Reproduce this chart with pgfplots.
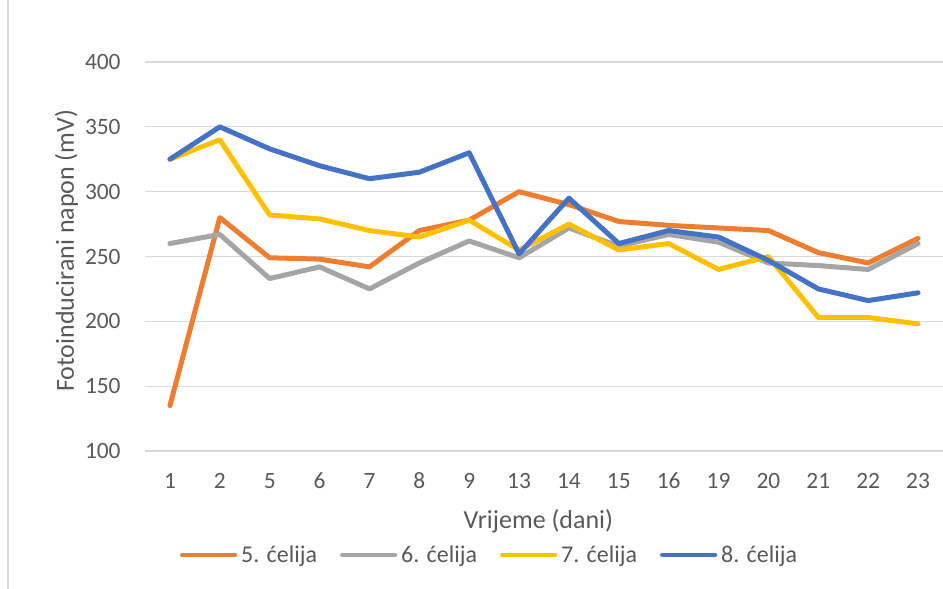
\documentclass[border=0pt]{standalone}
\usepackage{fontspec}
\setmainfont{Carlito}
\usepackage{pgfplots}
\pgfplotsset{compat=1.18}
\definecolor{cfive}{HTML}{ED7D31}
\definecolor{csix}{HTML}{A5A5A5}
\definecolor{cseven}{HTML}{FFC000}
\definecolor{ceight}{HTML}{4472C4}
\definecolor{txt}{HTML}{595959}
\definecolor{gridc}{HTML}{D9D9D9}
\begin{document}
\begin{tikzpicture}
\useasboundingbox (-72.5pt,-69pt) rectangle (399pt,225.5pt);
\draw[gridc, line width=0.6pt] (-68.5pt,-69pt) -- (-68.5pt,225.5pt);
\begin{axis}[
  at={(0pt,0pt)}, anchor=south west,
  width=399pt, height=194.5pt, scale only axis,
  xmin=-0.5, xmax=15.5, ymin=100, ymax=400,
  xtick={0,...,15},
  xticklabels={1,2,5,6,7,8,9,13,14,15,16,19,20,21,22,23},
  ytick={100,150,...,400},
  ymajorgrids, grid style={gridc, line width=0.6pt},
  axis line style={draw=none},
  major tick length=0pt,
  /pgf/number format/assume math mode=true,
  tick label style={font=\fontsize{11.7}{14}\selectfont, text=txt, inner sep=0pt},
  xticklabel style={anchor=base, yshift=-19pt},
  yticklabel style={anchor=east, xshift=-12pt},
  xlabel={Vrijeme (dani)},
  ylabel={Fotoinducirani napon (mV)},
  label style={font=\fontsize{13}{15}\selectfont, text=txt, inner sep=0pt},
  xlabel style={at={(axis description cs:0.493,-0.2005)}, anchor=base},
  ylabel style={at={(axis description cs:-0.089,0.515)}, anchor=base},
  legend columns=4,
  legend style={at={(axis description cs:0.0439,-0.27)}, anchor=west,
    draw=none, fill=none, inner sep=0pt, outer sep=0pt,
    font=\fontsize{12}{14}\selectfont, text=txt,
    cells={anchor=base west},
    nodes={inner sep=0pt},
    /tikz/every odd column/.append style={column sep=2pt},
    /tikz/every even column/.append style={column sep=11.5pt}},
  legend image code/.code={\draw[#1, line width=2.1pt, line cap=round] (0pt,4pt) -- (26.5pt,4pt);},
  every axis plot/.append style={line width=2.5pt, line join=round, line cap=round, no markers},
  clip=false,
]
\addplot[cfive] coordinates {(0,135) (1,280) (2,249) (3,248) (4,242) (5,270) (6,278) (7,300) (8,290) (9,277) (10,274) (11,272) (12,270) (13,253) (14,245) (15,264)};
\addlegendentry{5. ćelija}
\addplot[csix] coordinates {(0,260) (1,267) (2,233) (3,242) (4,225) (5,245) (6,262) (7,249) (8,272) (9,258) (10,267) (11,261) (12,245) (13,243) (14,240) (15,260)};
\addlegendentry{6. ćelija}
\addplot[cseven] coordinates {(0,325) (1,340) (2,282) (3,279) (4,270) (5,265) (6,278) (7,255) (8,275) (9,255) (10,260) (11,240) (12,250) (13,203) (14,203) (15,198)};
\addlegendentry{7. ćelija}
\addplot[ceight] coordinates {(0,325) (1,350) (2,333) (3,320) (4,310) (5,315) (6,330) (7,252) (8,295) (9,260) (10,270) (11,265) (12,247) (13,225) (14,216) (15,222)};
\addlegendentry{8. ćelija}
\end{axis}
\end{tikzpicture}
\end{document}
